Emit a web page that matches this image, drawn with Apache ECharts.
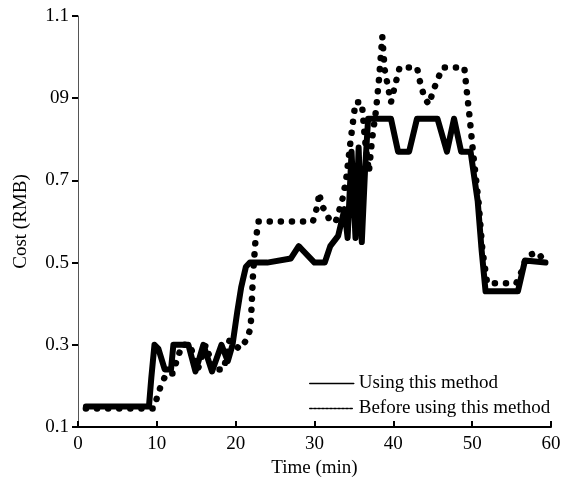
<!DOCTYPE html>
<html>
<head>
<meta charset="utf-8">
<script src="https://cdn.jsdelivr.net/npm/echarts@6/dist/echarts.min.js"></script>
<style>
html,body{margin:0;padding:0;background:#fff;}
#chart{width:567px;height:485px;}
</style>
</head>
<body>
<div id="chart"></div>
<script>
// Tick labels (as printed in the original, including "09")
const yTickValues = [0.1, 0.3, 0.5, 0.7, 0.9, 1.1];
const yTickLabels = ['0.1', '0.3', '0.5', '0.7', '09', '1.1'];
const seriesNames = ['Using this method', 'Before using this method'];

// "Using this method" (solid line)
const usingT = [1, 9.0, 9.3, 9.7, 10.2, 11.0, 11.8, 12.1, 14.0, 14.9, 15.9, 17.0, 18.2, 19.0, 19.6, 20.2, 20.7, 21.3, 21.8, 24.0, 27.0, 28.0, 28.5, 30.0, 31.3, 32.0, 33.0, 33.8, 34.2, 34.7, 35.2, 35.6, 36.0, 36.4, 36.8, 39.7, 40.6, 42.0, 43.0, 45.6, 46.8, 47.7, 48.6, 49.8, 50.7, 51.2, 51.7, 55.8, 56.7, 59.3];
const usingV = [0.15, 0.15, 0.22, 0.30, 0.29, 0.24, 0.24, 0.30, 0.30, 0.235, 0.30, 0.235, 0.30, 0.26, 0.30, 0.38, 0.44, 0.49, 0.50, 0.50, 0.51, 0.54, 0.53, 0.50, 0.50, 0.54, 0.565, 0.63, 0.56, 0.77, 0.56, 0.78, 0.55, 0.72, 0.85, 0.85, 0.77, 0.77, 0.85, 0.85, 0.77, 0.85, 0.77, 0.77, 0.65, 0.53, 0.43, 0.43, 0.505, 0.50];

// "Before using this method" (dotted line)
const beforeT = [1, 9.6, 10.0, 10.5, 11.2, 12.0, 12.5, 13.2, 14.2, 15.2, 16.2, 17.2, 18.5, 19.2, 20.5, 21.3, 21.9, 22.2, 22.5, 22.9, 29.8, 30.4, 30.6, 30.9, 31.5, 32.0, 32.7, 33.5, 34.0, 34.6, 35.2, 36.0, 36.4, 36.9, 37.3, 37.8, 38.2, 38.6, 38.9, 39.3, 39.7, 40.2, 40.8, 43.0, 43.5, 44.0, 44.5, 45.1, 45.7, 46.3, 49.0, 49.3, 49.7, 50.1, 50.8, 51.3, 51.9, 55.6, 56.3, 56.8, 57.5, 58.3, 59.3];
const beforeV = [0.145, 0.145, 0.17, 0.20, 0.23, 0.23, 0.26, 0.30, 0.30, 0.24, 0.30, 0.24, 0.24, 0.31, 0.29, 0.31, 0.34, 0.47, 0.55, 0.60, 0.60, 0.64, 0.67, 0.64, 0.62, 0.60, 0.60, 0.65, 0.70, 0.80, 0.89, 0.89, 0.80, 0.72, 0.80, 0.87, 0.95, 1.05, 0.97, 0.93, 0.89, 0.93, 0.975, 0.975, 0.93, 0.90, 0.885, 0.92, 0.95, 0.975, 0.975, 0.92, 0.85, 0.77, 0.65, 0.53, 0.45, 0.45, 0.48, 0.51, 0.52, 0.525, 0.50];

const usingData = usingT.map((t, i) => [t, usingV[i]]);
const beforeData = beforeT.map((t, i) => [t, beforeV[i]]);

const FONT = '"Liberation Serif", "Times New Roman", serif';
const chart = echarts.init(document.getElementById('chart'), null, {renderer: 'canvas'});
chart.setOption({
  animation: false,
  backgroundColor: '#fff',
  color: ['#000', '#000'],
  grid: {left: 78, right: 16, top: 16, bottom: 58, containLabel: false},
  legend: {
    orient: 'vertical',
    left: 309,
    top: 374,
    padding: 0,
    itemWidth: 44,
    itemHeight: 12,
    itemGap: 6,
    textStyle: {fontFamily: FONT, fontSize: 19, color: '#000', lineHeight: 19},
    itemStyle: {opacity: 0},
    data: [
      {name: seriesNames[0], itemStyle: {opacity: 0}, lineStyle: {width: 1.5, type: 'solid', color: '#000'}},
      {name: seriesNames[1], itemStyle: {opacity: 0}, lineStyle: {width: 1.5, type: [2.5, 1.5], color: '#000'}}
    ]
  },
  xAxis: {
    type: 'value',
    min: 0, max: 60, interval: 10,
    name: 'Time (min)',
    nameLocation: 'middle',
    nameGap: 31,
    nameTextStyle: {fontFamily: FONT, fontSize: 19, color: '#000'},
    axisLine: {show: true, onZero: false, lineStyle: {color: '#000', width: 2}},
    axisTick: {show: true, inside: true, length: 6, lineStyle: {color: '#000', width: 2}},
    axisLabel: {fontFamily: FONT, fontSize: 19, color: '#000', margin: 8},
    splitLine: {show: false}
  },
  yAxis: {
    type: 'value',
    min: 0.1, max: 1.1, interval: 0.2,
    name: 'Cost (RMB)',
    nameLocation: 'middle',
    nameGap: 47,
    nameTextStyle: {fontFamily: FONT, fontSize: 19, color: '#000'},
    axisLine: {show: true, onZero: false, lineStyle: {color: '#555', width: 1}},
    axisTick: {show: true, inside: false, length: 6, lineStyle: {color: '#000', width: 2}},
    axisLabel: {
      fontFamily: FONT, fontSize: 19, color: '#000', margin: 9,
      formatter: function (v) {
        for (let i = 0; i < yTickValues.length; i++) {
          if (Math.abs(yTickValues[i] - v) < 1e-6) return yTickLabels[i];
        }
        return '';
      }
    },
    splitLine: {show: false}
  },
  series: [
    {
      name: seriesNames[1],
      type: 'line',
      data: beforeData,
      symbol: 'none',
      z: 2,
      itemStyle: {color: '#000'},
      lineStyle: {color: '#000', width: 6.5, type: [0.1, 11], cap: 'round', join: 'round'}
    },
    {
      name: seriesNames[0],
      type: 'line',
      data: usingData,
      symbol: 'none',
      z: 3,
      itemStyle: {color: '#000'},
      lineStyle: {color: '#000', width: 6, type: 'solid', cap: 'round', join: 'round'}
    }
  ]
});
</script>
</body>
</html>
